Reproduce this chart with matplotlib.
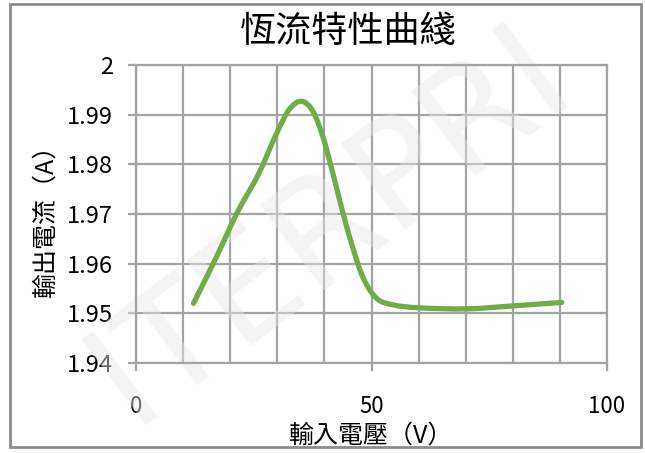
import matplotlib
matplotlib.use("Agg")
import numpy as np
import matplotlib.pyplot as plt
from matplotlib.patches import Rectangle, PathPatch
from matplotlib.path import Path
from matplotlib.ticker import MultipleLocator

plt.rcParams['font.family'] = ['Noto Sans CJK TC', 'DejaVu Sans']

# values
voltage = [12.2, 17.0, 21.5, 26.0, 29.5, 32.5, 35.2, 37.6, 39.8, 41.9,
           44.0, 46.1, 48.3, 51.1, 54.6, 60.3, 70.2, 80.1, 90.4]
current = [1.9520, 1.9612, 1.9703, 1.9780, 1.9855, 1.9910, 1.9927,
           1.9906, 1.9852, 1.9778, 1.9700, 1.9630, 1.9570, 1.9530, 1.9517,
           1.9511, 1.9509, 1.9515, 1.9522]

title = "恆流特性曲綫"
xlabel = "輸入電壓（V）"
ylabel = "輸出電流（A）"
yticks = [1.94, 1.95, 1.96, 1.97, 1.98, 1.99, 2.0]
yticklabels = ["1.94", "1.95", "1.96", "1.97", "1.98", "1.99", "2"]
xticks = [0, 50, 100]
watermark = "ITERPRI"

grid_c = "#a3a3a3"


def smooth_path(xs, ys):
    # excel-like smoothed line: catmull-rom turned into cubic bezier pieces
    p = np.column_stack([xs, ys])
    verts = [p[0]]
    codes = [Path.MOVETO]
    n = len(p)
    for i in range(n - 1):
        p0 = p[max(i - 1, 0)]
        p1 = p[i]
        p2 = p[i + 1]
        p3 = p[min(i + 2, n - 1)]
        verts += [p1 + (p2 - p0) / 6, p2 - (p3 - p1) / 6, p2]
        codes += [Path.CURVE4] * 3
    return Path(verts, codes)


fig = plt.figure(figsize=(6.45, 4.53), dpi=100)
ax = fig.add_axes([136/645, 1-363/453, 471/645, 298/453])

ax.add_patch(PathPatch(smooth_path(voltage, current), fill=False,
                       edgecolor="#70ad47", lw=3.8, capstyle="round", zorder=3))

ax.set_xlim(0, 100)
ax.set_ylim(1.94, 2.0)
ax.set_xticks(xticks)
ax.xaxis.set_minor_locator(MultipleLocator(10))
ax.set_yticks(yticks)
ax.set_yticklabels(yticklabels)

ax.grid(True, which="both", axis="x", color=grid_c, lw=1.6, zorder=1)
ax.grid(True, which="major", axis="y", color=grid_c, lw=1.6, zorder=1)
for s in ax.spines.values():
    s.set_color(grid_c)
    s.set_linewidth(1.6)

ax.tick_params(axis="x", which="major", length=6, width=1.6, color=grid_c,
               pad=17, labelsize=16)
ax.tick_params(axis="x", which="minor", length=0)
ax.tick_params(axis="y", length=5.5, width=1.6, color=grid_c, pad=11, labelsize=17)

ax.set_xlabel(xlabel, fontsize=18, labelpad=3)
ax.set_ylabel(ylabel, fontsize=18, labelpad=6)

fig.text(348/645, 1-32/453, title, fontsize=26, ha="center", va="center")

# faint watermark across the picture
ax.text(330/645, 1-225/453, watermark, transform=fig.transFigure, fontsize=105,
        rotation=37, ha="center", va="center", color="#e8e8e8", alpha=0.45,
        family="DejaVu Sans", clip_on=False, zorder=2)

fig.patches.append(Rectangle((10/645, 6/453), 631/645, 443/453, transform=fig.transFigure,
                             fill=False, edgecolor="#8c8c8c", lw=2))

fig.savefig("out.png", dpi=100)
